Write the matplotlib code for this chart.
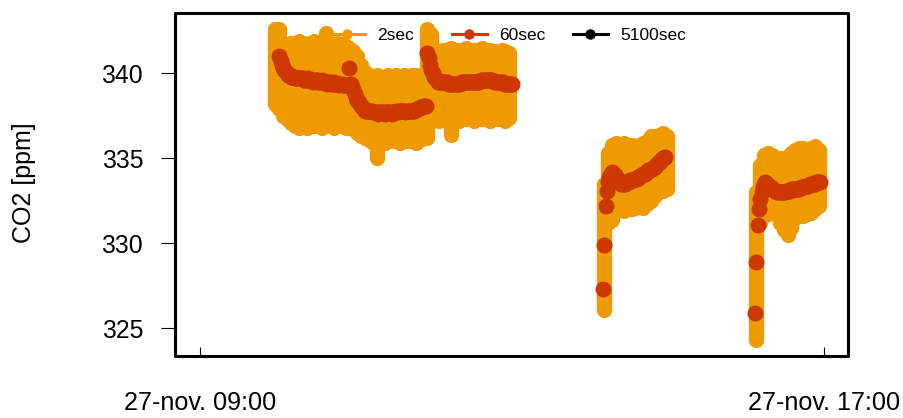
import pandas as pd
import matplotlib
matplotlib.use("Agg")
import matplotlib.pyplot as plt
from matplotlib.lines import Line2D
from matplotlib.patches import Rectangle

plt.rcParams['font.family'] = ['Liberation Sans', 'DejaVu Sans']

# ---------------------------------------------------------
# data: 27 Nov, three measuring periods
# ---------------------------------------------------------

# 2 s readings, summarised as min / max over 3 minute blocks
starts_2s = ["2013-11-27 09:58", "2013-11-27 14:11", "2013-11-27 16:08"]

co2_2s_max_a = [
    342.6, 342.6, 341.7, 341.7, 341.8, 341.6, 341.9, 341.8, 341.6, 341.8,
    341.9, 341.6, 341.8, 342.4, 341.8, 341.6, 341.8, 341.7, 341.6, 341.5,
    341.3, 341.0, 340.5, 340.1, 339.9, 339.8, 339.9, 339.7, 339.8, 339.9,
    339.7, 339.9, 339.8, 339.9, 339.7, 339.9, 339.9, 339.7, 339.8, 342.6,
    342.3, 341.4, 341.2, 341.4, 341.3, 341.5, 341.2, 341.4, 341.3, 341.5,
    341.2, 341.4, 341.3, 341.5, 341.2, 341.4, 341.3, 341.2, 341.4, 341.3,
    341.2,
]
co2_2s_min_a = [
    338.2, 337.9, 337.5, 337.3, 337.1, 336.9, 336.8, 337.0, 336.8, 337.0,
    336.9, 337.0, 336.8, 337.0, 336.9, 336.8, 337.0, 336.9, 336.8, 336.8,
    336.7, 336.5, 336.3, 336.2, 336.1, 335.9, 335.0, 336.1, 335.9, 336.1,
    336.0, 336.1, 335.9, 336.1, 336.0, 336.1, 335.9, 336.1, 336.2, 336.2,
    337.6, 337.4, 337.2, 337.4, 337.3, 336.4, 337.4, 337.2, 337.4, 337.3,
    337.4, 337.2, 337.4, 337.3, 337.4, 337.2, 337.4, 337.3, 337.4, 337.2,
    337.4,
]

co2_2s_max_b = [
    333.5, 335.3, 335.8, 335.9, 335.7, 335.9, 335.8, 335.8, 335.7, 335.8,
    335.9, 336.0, 336.3, 336.3, 336.4, 336.5, 336.3,
]
co2_2s_min_b = [
    326.1, 331.2, 331.4, 331.9, 332.1, 331.9, 332.1, 332.0, 332.1, 332.2,
    332.1, 332.3, 332.5, 332.8, 333.0, 333.1, 333.2,
]

co2_2s_max_c = [
    333.0, 334.6, 335.2, 335.3, 335.2, 335.0, 335.0, 335.0, 335.1, 335.3,
    335.5, 335.6, 335.6, 335.5, 335.6, 335.7, 335.5,
]
co2_2s_min_c = [
    324.3, 331.2, 331.6, 331.7, 331.8, 331.7, 331.2, 330.8, 330.5, 330.9,
    331.5, 331.6, 331.6, 331.7, 331.8, 332.0, 332.2,
]

# 60 s means, one value per minute
starts_60s = ["2013-11-27 10:01", "2013-11-27 14:10", "2013-11-27 16:07"]

co2_60s_a = [
    341.0, 340.7, 340.5, 340.3, 340.2, 340.1, 340.0, 339.9, 339.9, 339.8,
    339.8, 339.8, 339.7, 339.7, 339.7, 339.7, 339.7, 339.7, 339.7, 339.6,
    339.6, 339.6, 339.7, 339.6, 339.6, 339.6, 339.5, 339.6, 339.6, 339.6,
    339.5, 339.5, 339.5, 339.6, 339.5, 339.5, 339.5, 339.4, 339.5, 339.5,
    339.4, 339.4, 339.5, 339.4, 339.4, 339.4, 339.3, 339.4, 339.4, 339.3,
    339.3, 339.3, 339.3, 339.3, 340.3, 339.4, 339.2, 339.0, 338.8, 338.6,
    338.4, 338.3, 338.2, 338.1, 338.0, 337.9, 337.8, 337.8, 337.8, 337.8,
    337.8, 337.8, 337.7, 337.7, 337.7, 337.7, 337.6, 337.7, 337.7, 337.7,
    337.7, 337.6, 337.7, 337.7, 337.7, 337.7, 337.7, 337.6, 337.7, 337.7,
    337.8, 337.7, 337.8, 337.8, 337.8, 337.8, 337.8, 337.7, 337.8, 337.8,
    337.8, 337.8, 337.8, 337.8, 337.8, 337.9, 337.9, 337.9, 338.0, 338.0,
    338.0, 338.1, 338.1, 338.1, 341.2, 340.9, 340.5, 340.2, 340.0, 339.8,
    339.7, 339.6, 339.5, 339.5, 339.5, 339.5, 339.5, 339.5, 339.5, 339.5,
    339.4, 339.4, 339.4, 339.4, 339.4, 339.4, 339.4, 339.4, 339.4, 339.4,
    339.5, 339.5, 339.5, 339.5, 339.5, 339.5, 339.5, 339.5, 339.5, 339.5,
    339.5, 339.5, 339.5, 339.5, 339.5, 339.6, 339.6, 339.6, 339.6, 339.6,
    339.6, 339.6, 339.6, 339.6, 339.6, 339.5, 339.5, 339.5, 339.5, 339.5,
    339.5, 339.5, 339.5, 339.4, 339.4, 339.4, 339.4, 339.4, 339.4, 339.4,
]
co2_60s_b = [
    327.3, 329.9, 332.2, 333.1, 333.6, 333.9, 334.1, 334.2, 334.1, 334.0,
    333.9, 333.8, 333.7, 333.6, 333.5, 333.5, 333.5, 333.5, 333.6, 333.6,
    333.6, 333.7, 333.7, 333.7, 333.8, 333.8, 333.8, 333.9, 333.9, 334.0,
    334.0, 334.1, 334.1, 334.2, 334.2, 334.3, 334.3, 334.4, 334.4, 334.5,
    334.5, 334.6, 334.7, 334.8, 334.8, 334.9, 335.0, 335.0, 335.1,
]
co2_60s_c = [
    325.9, 328.9, 331.1, 332.0, 332.6, 333.0, 333.3, 333.5, 333.6, 333.5,
    333.4, 333.4, 333.3, 333.2, 333.2, 333.1, 333.1, 333.0, 333.0, 333.0,
    333.0, 333.0, 333.0, 333.0, 333.1, 333.1, 333.1, 333.1, 333.2, 333.2,
    333.2, 333.2, 333.2, 333.2, 333.2, 333.3, 333.3, 333.3, 333.3, 333.4,
    333.4, 333.4, 333.5, 333.5, 333.5, 333.5, 333.5, 333.6, 333.6, 333.6,
    333.6,
]

# 5100 s means: none inside this window
times_5100s = []
co2_5100s = []

series_names = ["2sec", "60sec", "5100sec"]
series_colors = ["#EE9A00", "#CD3700", "black"]

tick_times = ["2013-11-27 09:00", "2013-11-27 17:00"]
tick_labels = ["27-nov. 09:00", "27-nov. 17:00"]
y_ticks = [325, 330, 335, 340]

# ---------------------------------------------------------
# plot
# ---------------------------------------------------------

fig = plt.figure(figsize=(9.04, 4.18), dpi=100)
ax = fig.add_axes([175 / 904, 62 / 418, 673 / 904, 343 / 418])

dot = 11.0  # marker diameter in points

lows = [co2_2s_min_a, co2_2s_min_b, co2_2s_min_c]
highs = [co2_2s_max_a, co2_2s_max_b, co2_2s_max_c]
for start, lo, hi in zip(starts_2s, lows, highs):
    t = pd.date_range(start, periods=len(lo), freq="3min")
    lc = ax.vlines(t, lo, hi, colors=series_colors[0], linewidth=dot)
    lc.set_capstyle("round")
    lc.set_joinstyle("round")

for start, vals in zip(starts_60s, [co2_60s_a, co2_60s_b, co2_60s_c]):
    t = pd.date_range(start, periods=len(vals), freq="1min")
    ax.plot(t, vals, "o", color=series_colors[1], markersize=dot + 0.5,
            markeredgewidth=0)

ax.plot(pd.to_datetime(times_5100s), co2_5100s, "o",
        color=series_colors[2], markersize=dot, markeredgewidth=0)

t0 = pd.Timestamp(tick_times[0])
t1 = pd.Timestamp(tick_times[1])
ax.set_xlim(t0 - pd.Timedelta(minutes=19.2), t1 + pd.Timedelta(minutes=18.5))
ax.set_ylim(323.37, 343.55)

ax.set_xticks(pd.to_datetime(tick_times))
ax.set_xticklabels(tick_labels)
ax.set_yticks(y_ticks)
ax.set_yticklabels([str(v) for v in y_ticks])
ax.tick_params(axis="x", direction="in", length=6.5, width=0.8, pad=25.5,
               labelsize=18.2)
ax.tick_params(axis="y", direction="out", length=10, width=0.8, pad=13,
               labelsize=17.8)

for s in ax.spines.values():
    s.set_visible(False)
ax.add_patch(Rectangle((0, 0), 1, 1, transform=ax.transAxes, fill=False,
                       lw=2.2, ec="black", joinstyle="round", clip_on=False,
                       zorder=5))

fig.text(24 / 904, 1 - 183 / 418, "CO2 [ppm]", rotation=90, ha="center",
         va="center", fontsize=18)

# legend entries laid out in fixed-width columns
legend_x = [330, 452, 573]
for name, col, x0 in zip(series_names, series_colors, legend_x):
    h = Line2D([], [], color=col, lw=2.2, marker="o", markersize=6.5)
    fig.legend(handles=[h], labels=[name], loc="center left",
               bbox_to_anchor=(x0 / 904, 1 - 35 / 418), frameon=False,
               fontsize=12.5, handlelength=2.0, handletextpad=0.7,
               borderpad=0, borderaxespad=0)

fig.savefig("out.png", dpi=100)
